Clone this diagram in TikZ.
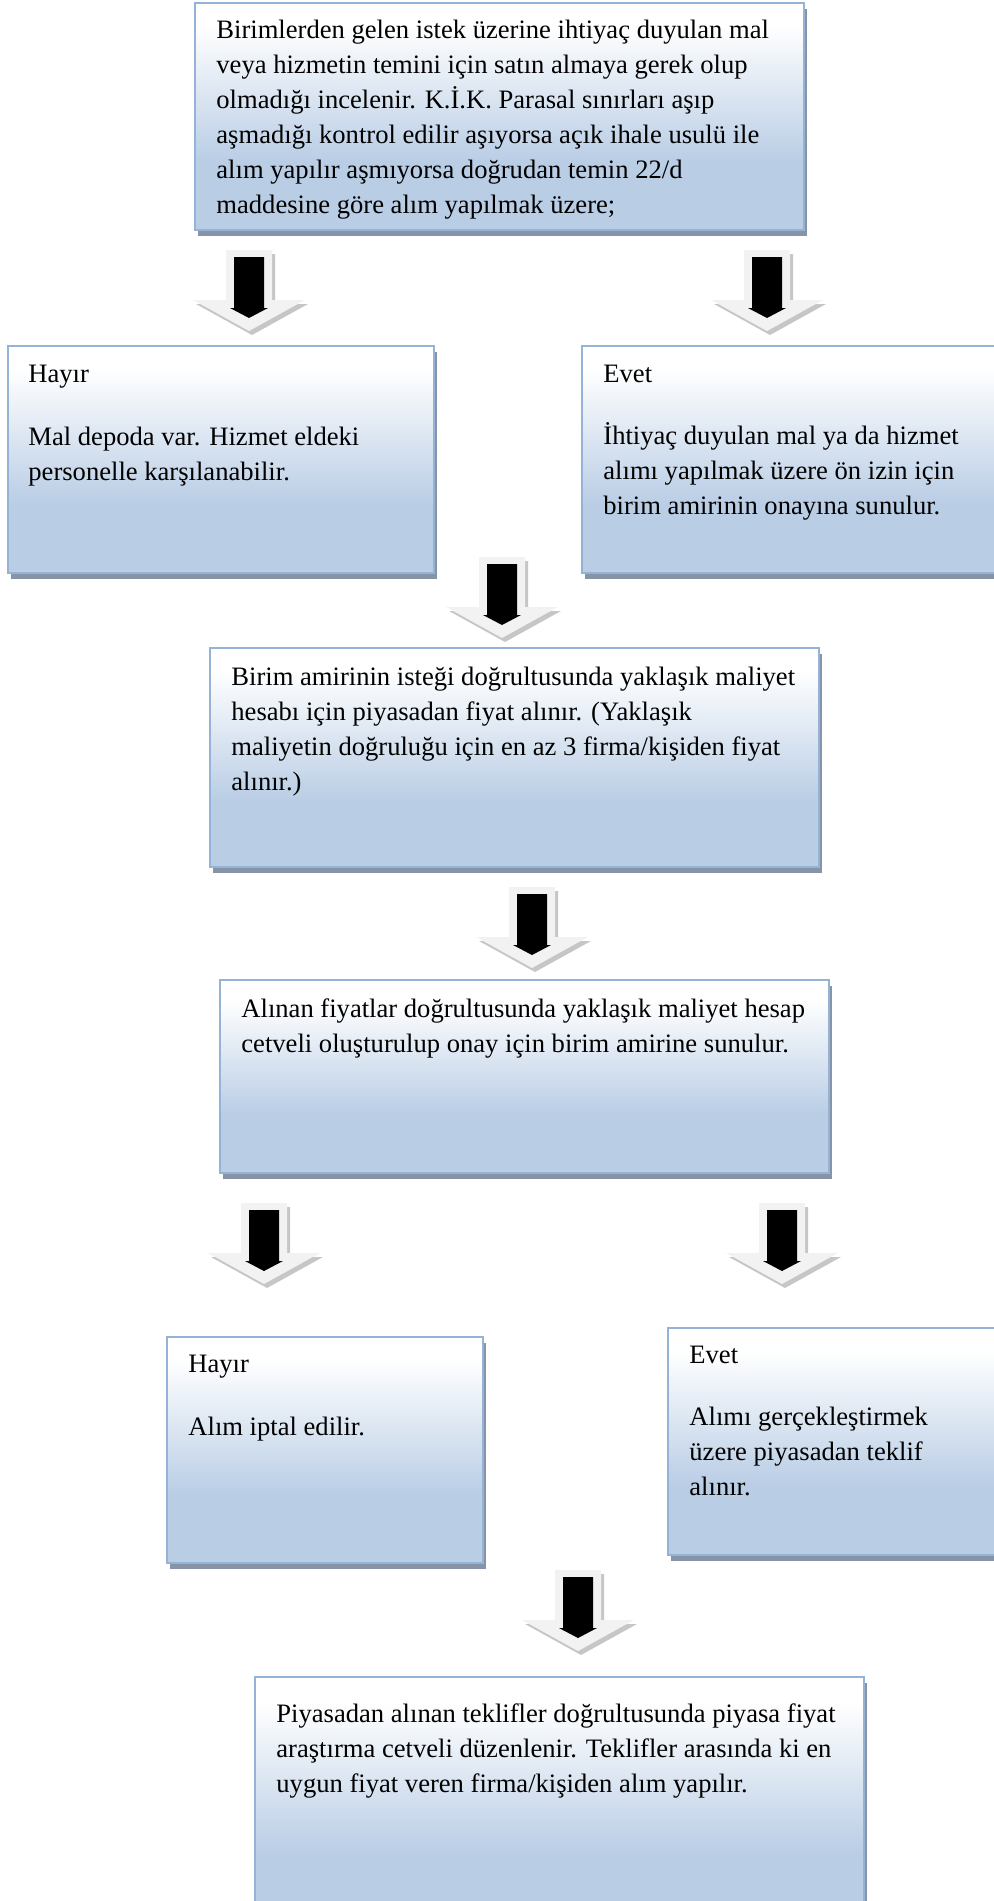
\documentclass[tikz,border=0pt]{standalone}
\usepackage{fontspec}
\setmainfont{Liberation Serif}
\usetikzlibrary{calc,shadows}
\definecolor{boxline}{RGB}{149,179,215}
\definecolor{boxblue}{RGB}{185,205,229}
\definecolor{boxshadow}{RGB}{135,148,168}
\definecolor{arrowface}{RGB}{242,242,242}
\definecolor{arrowedge}{RGB}{198,198,198}
\pgfdeclareverticalshading{boxgrad}{100bp}{color(0bp)=(boxblue); color(40bp)=(boxblue); color(70bp)=(white); color(100bp)=(white)}
\tikzset{
  box/.style={draw=boxline,line width=1pt,shading=boxgrad,
    drop shadow={shadow xshift=1.5pt,shadow yshift=-3pt,fill=boxshadow,opacity=1}},
  txt/.style={font=\fontsize{13.3}{17.5}\selectfont,inner sep=0pt,anchor=base west,align=left}
}
% Grey block arrow with a black arrow inside, #1 = x of centre, #2 = y of top
\newcommand*{\blockarrow}[2]{%
  \begin{scope}[shift={(#1,#2)}]
    \fill[arrowedge] (-21,4) -- (26,4) -- (26,54) -- (59,54) -- (3,85) -- (-53,54) -- (-21,54) -- cycle;
    \fill[arrowface] (-23,0) -- (23,0) -- (23,50) -- (56,50) -- (0,81) -- (-56,50) -- (-23,50) -- cycle;
    \fill[black] (-15,7) -- (15,7) -- (15,58) -- (19,58) -- (0,68) -- (-19,58) -- (-15,58) -- cycle;
  \end{scope}}

\begin{document}
\begin{tikzpicture}[x=0.5pt,y=-0.5pt]
\useasboundingbox (0,0) rectangle (993,1901);

% Request box (text node sits on its last baseline)
\coordinate (T1) at (195,3);
\coordinate (T2) at (804,230);
\path[box] (T1) rectangle (T2);
\node[txt] (talep) at ($(T1)+(21,210)$) {Birimlerden gelen istek üzerine ihtiyaç duyulan mal\\
  veya hizmetin temini için satın almaya gerek olup\\
  olmadığı incelenir. K.İ.K. Parasal sınırları aşıp\\
  aşmadığı kontrol edilir aşıyorsa açık ihale usulü ile\\
  alım yapılır aşmıyorsa doğrudan temin 22/d\\
  maddesine göre alım yapılmak üzere;};
\blockarrow{249}{250}
\blockarrow{767}{250}

% First no / yes boxes
\coordinate (H1) at (8,346);
\coordinate (H2) at (434,573);
\path[box] (H1) rectangle (H2);
\node[txt] (hayirA) at ($(H1)+(20,134)$) {Hayır\\[14pt]
  Mal depoda var. Hizmet eldeki\\
  personelle karşılanabilir.};
\coordinate (E1) at (582,346);
\coordinate (E2) at (1010,573);
\path[box] (E1) rectangle (E2);
\node[txt] (evetA) at ($(E1)+(21,168)$) {Evet\\[13.5pt]
  İhtiyaç duyulan mal ya da hizmet\\
  alımı yapılmak üzere ön izin için\\
  birim amirinin onayına sunulur.};
\blockarrow{502}{557}

% Price box
\coordinate (P1) at (210,648);
\coordinate (P2) at (819,867);
\path[box] (P1) rectangle (P2);
\node[txt] (fiyat) at ($(P1)+(21,142)$) {Birim amirinin isteği doğrultusunda yaklaşık maliyet\\
  hesabı için piyasadan fiyat alınır. (Yaklaşık\\
  maliyetin doğruluğu için en az 3 firma/kişiden fiyat\\
  alınır.)};
\blockarrow{532}{887}

% Cost table box
\coordinate (C1) at (220,980);
\coordinate (C2) at (829,1173);
\path[box] (C1) rectangle (C2);
\node[txt] (cetvel) at ($(C1)+(21,72)$) {Alınan fiyatlar doğrultusunda yaklaşık maliyet hesap\\
  cetveli oluşturulup onay için birim amirine sunulur.};
\blockarrow{264}{1203}
\blockarrow{782}{1203}

% Second no / yes boxes
\coordinate (H3) at (167,1337);
\coordinate (H4) at (483,1563);
\path[box] (H3) rectangle (H4);
\node[txt] (hayirB) at ($(H3)+(21,98)$) {Hayır\\[14pt]
  Alım iptal edilir.};
\coordinate (E3) at (668,1328);
\coordinate (E4) at (1010,1555);
\path[box] (E3) rectangle (E4);
\node[txt] (evetB) at ($(E3)+(21,167)$) {Evet\\[13.5pt]
  Alımı gerçekleştirmek\\
  üzere piyasadan teklif\\
  alınır.};
\blockarrow{578}{1570}

% Offer box
\coordinate (O1) at (255,1677);
\coordinate (O2) at (864,1930);
\path[box] (O1) rectangle (O2);
\node[txt] (teklif) at ($(O1)+(21,115)$) {Piyasadan alınan teklifler doğrultusunda piyasa fiyat\\
  araştırma cetveli düzenlenir. Teklifler arasında ki en\\
  uygun fiyat veren firma/kişiden alım yapılır.};
\end{tikzpicture}
\end{document}
